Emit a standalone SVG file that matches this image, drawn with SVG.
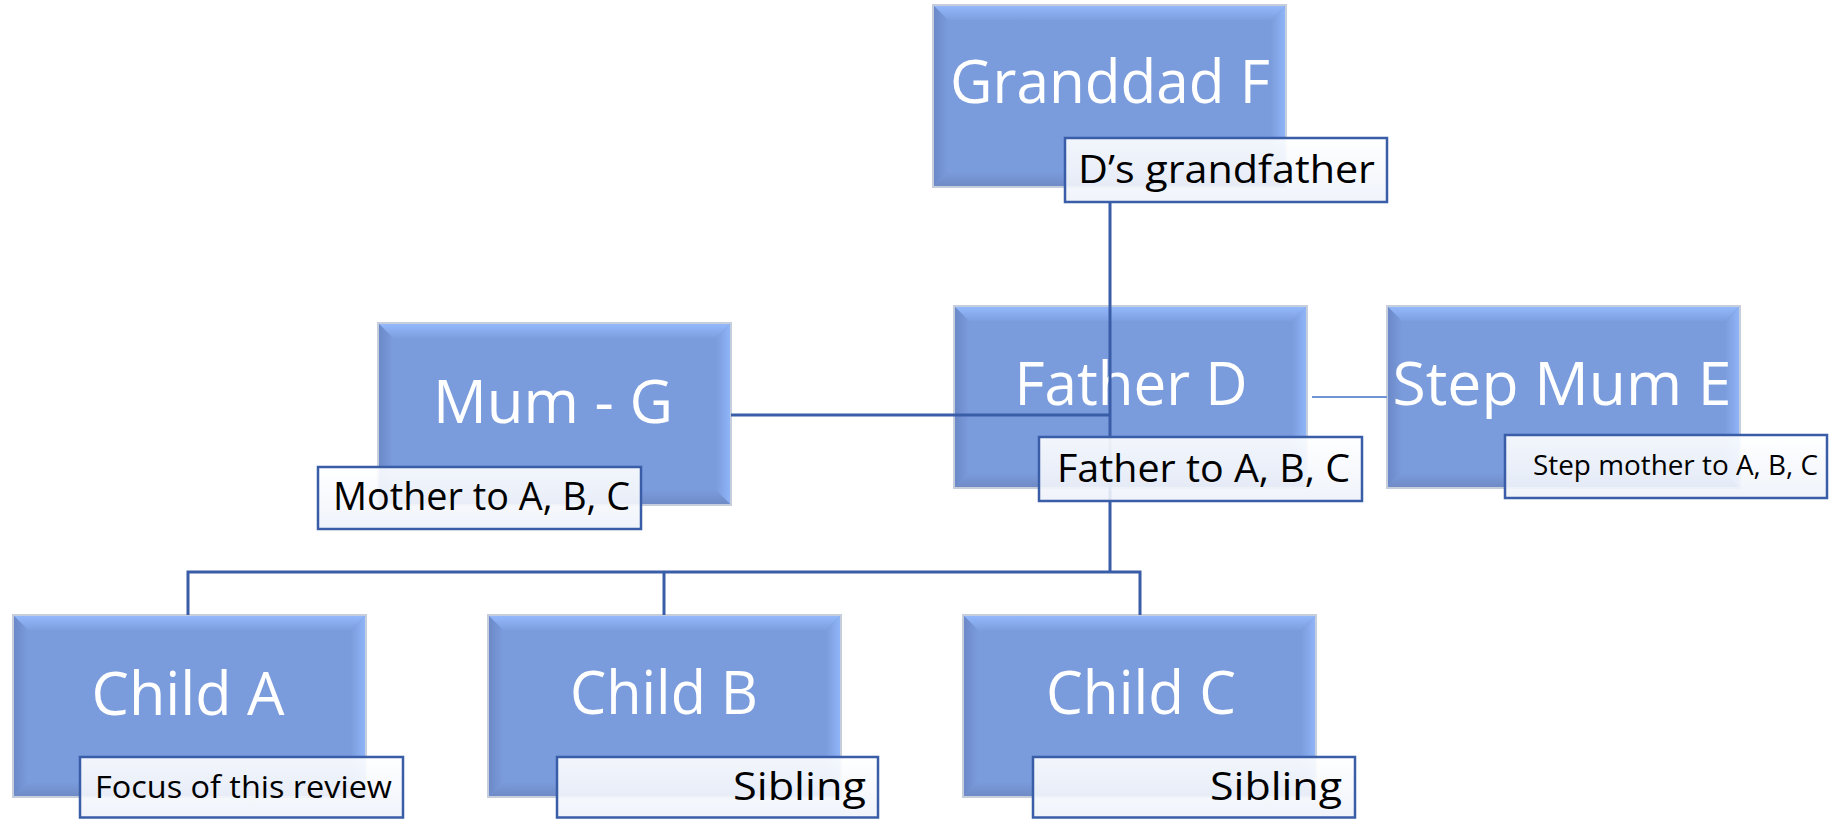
<svg xmlns="http://www.w3.org/2000/svg" xmlns:xlink="http://www.w3.org/1999/xlink" width="1842" height="819" viewBox="0 0 1842 819">
<style>
.bt{font-family:"Open Sans","Noto Sans","Liberation Sans",sans-serif;font-size:60px;fill:#ffffff;text-anchor:middle}
.lt{font-family:"Open Sans","Noto Sans","Liberation Sans",sans-serif;font-size:38px;fill:#000000}
.lab{fill:url(#labFill);fill-opacity:0.9;stroke:#3a5da8;stroke-width:2.5}
.con{fill:none;stroke:#3a5da8;stroke-width:3}
.con2{fill:none;stroke:#7094d4;stroke-width:2}
</style>
<defs>
<linearGradient id="labFill" x1="0" y1="0" x2="0" y2="1">
<stop offset="0" stop-color="#ffffff"/>
<stop offset="1" stop-color="#eef2fa"/>
</linearGradient>
<linearGradient id="leftB" x1="0" y1="0" x2="1" y2="0">
<stop offset="0" stop-color="#6c89c8"/>
<stop offset="1" stop-color="#7a9bdc"/>
</linearGradient>
<linearGradient id="topB" x1="0" y1="0" x2="0" y2="1">
<stop offset="0" stop-color="#93b8fb"/>
<stop offset="1" stop-color="#7d9fe0"/>
</linearGradient>
<linearGradient id="rightB" x1="1" y1="0" x2="0" y2="0">
<stop offset="0" stop-color="#8fb4f8"/>
<stop offset="1" stop-color="#7b9cdc"/>
</linearGradient>
<linearGradient id="botB" x1="0" y1="1" x2="0" y2="0">
<stop offset="0" stop-color="#6f8bc6"/>
<stop offset="1" stop-color="#7a9bdc"/>
</linearGradient>
<g id="bevelBox">
<rect x="0" y="0" width="353" height="182" fill="#7a9bdc" stroke="#c6cedc" stroke-width="2"/>
<polygon points="1,1 352,1 338,15 15,15" fill="url(#topB)"/>
<polygon points="352,1 352,181 338,167 338,15" fill="url(#rightB)"/>
<polygon points="1,1 15,15 15,167 1,181" fill="url(#leftB)"/>
<polygon points="1,181 15,167 338,167 352,181" fill="url(#botB)"/>
</g>
</defs>

<g id="boxes">
<g id="node-granddad"><use xlink:href="#bevelBox" x="933" y="5"/><text class="bt" x="1110" y="103" textLength="320" lengthAdjust="spacingAndGlyphs">Granddad F</text></g>
<g id="node-mum"><use xlink:href="#bevelBox" x="378" y="323"/><text class="bt" x="553" y="423" textLength="240" lengthAdjust="spacingAndGlyphs">Mum - G</text></g>
<g id="node-father"><use xlink:href="#bevelBox" x="954" y="306"/><text class="bt" x="1131" y="405" textLength="233" lengthAdjust="spacingAndGlyphs">Father D</text></g>
<g id="node-stepmum"><use xlink:href="#bevelBox" x="1387" y="306"/><text class="bt" x="1562" y="405" textLength="339" lengthAdjust="spacingAndGlyphs">Step Mum E</text></g>
<g id="node-childA"><use xlink:href="#bevelBox" x="13" y="615"/><text class="bt" x="188" y="715" textLength="193" lengthAdjust="spacingAndGlyphs">Child A</text></g>
<g id="node-childB"><use xlink:href="#bevelBox" x="488" y="615"/><text class="bt" x="664" y="714" textLength="188" lengthAdjust="spacingAndGlyphs">Child B</text></g>
<g id="node-childC"><use xlink:href="#bevelBox" x="963" y="615"/><text class="bt" x="1141" y="714" textLength="190" lengthAdjust="spacingAndGlyphs">Child C</text></g>
</g>

<g id="connectors">
<path class="con" d="M1110,202 V572"/>
<path class="con" d="M731,415 H1110"/>
<path class="con" d="M188,615 V572 H1140 V615"/>
<path class="con" d="M664,572 V615"/>
<path class="con2" d="M1312,397 H1387"/>
</g>

<g id="labels">
<g id="label-granddad"><rect class="lab" x="1065" y="138" width="322" height="64"/><text class="lt" x="1078" y="183" textLength="297" lengthAdjust="spacingAndGlyphs">D’s grandfather</text></g>
<g id="label-mum"><rect class="lab" x="318" y="467" width="323" height="62"/><text class="lt" x="333" y="510" textLength="297" lengthAdjust="spacingAndGlyphs">Mother to A, B, C</text></g>
<g id="label-father"><rect class="lab" x="1039" y="437" width="323" height="64"/><text class="lt" x="1057" y="482" textLength="293" lengthAdjust="spacingAndGlyphs">Father to A, B, C</text></g>
<g id="label-stepmum"><rect class="lab" x="1505" y="435" width="322" height="63"/><text class="lt" x="1533" y="475" style="font-size:28px" textLength="285" lengthAdjust="spacingAndGlyphs">Step mother to A, B, C</text></g>
<g id="label-childA"><rect class="lab" x="80" y="757" width="323" height="60.5"/><text class="lt" x="95" y="798" style="font-size:31px" textLength="297" lengthAdjust="spacingAndGlyphs">Focus of this review</text></g>
<g id="label-childB"><rect class="lab" x="557" y="757" width="321" height="60.5"/><text class="lt" x="733" y="800" textLength="133" lengthAdjust="spacingAndGlyphs">Sibling</text></g>
<g id="label-childC"><rect class="lab" x="1033" y="757" width="322" height="60.5"/><text class="lt" x="1210" y="800" textLength="132" lengthAdjust="spacingAndGlyphs">Sibling</text></g>
</g>
</svg>
